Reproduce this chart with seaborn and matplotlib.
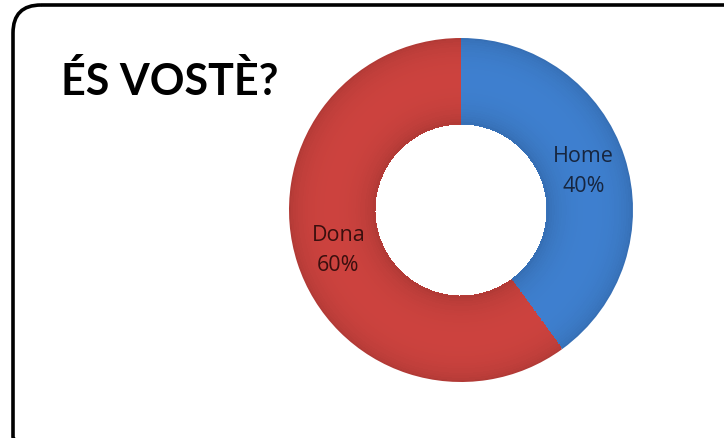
import numpy as np
import matplotlib
matplotlib.use("Agg")
import matplotlib.pyplot as plt
import matplotlib.colors as mcolors
from matplotlib.patches import FancyBboxPatch
import seaborn as sns

# Survey split by gender
categories = ["Home", "Dona"]
shares = [40, 60]
title_text = "ÉS VOSTÈ?"

base_colors = ["#3D7DCB", "#C8413D"]
label_colors = ["#17263F", "#3A0F0E"]

sns.set_theme(style="white")
plt.rcParams["font.family"] = ["Lato", "DejaVu Sans"]

W, H = 724, 439
fig = plt.figure(figsize=(W / 100, H / 100), dpi=100)
fig.patch.set_facecolor("white")

# Rounded frame around the whole card
frame_ax = fig.add_axes([0, 0, 1, 1])
frame_ax.set_xlim(0, W)
frame_ax.set_ylim(H, 0)
frame_ax.axis("off")
frame_ax.add_patch(FancyBboxPatch((13, 6), 740, 460,
                                  boxstyle="round,pad=0,rounding_size=28",
                                  fill=False, edgecolor="black", linewidth=2.6))
frame_ax.text(61, 95, title_text, fontsize=31, fontweight="bold",
              color="black", ha="left", va="baseline")

# Donut axes, centred on the card's right-hand side
cx, cy, R = 461, 211, 172
ax = fig.add_axes([(cx - R) / W, (H - cy - R) / H, 2 * R / W, 2 * R / H])
ax.axis("off")

inner = 0.5
n_rings = 36
edges = np.linspace(inner, 1.0, n_rings + 1)


def shade(color, t):
    """Bevel tone across the ring: darker near both rims, brighter mid-ring."""
    rgb = np.array(mcolors.to_rgb(color))
    prof = np.sin(np.pi * t)  # 0 at rims, 1 in the middle
    k = 0.84 + 0.18 * prof ** 0.4
    return np.clip(rgb * k, 0, 1)


# Paint outermost band first; each smaller band covers the inner part of the
# previous one, so no seams appear between bands.
for i in range(n_rings - 1, -1, -1):
    r_out = edges[i + 1]
    t = (0.5 * (edges[i] + edges[i + 1]) - inner) / (1 - inner)
    cols = [shade(c, t) for c in base_colors]
    ax.pie(shares, radius=r_out, startangle=90, counterclock=False,
           colors=cols, wedgeprops=dict(width=r_out - inner, edgecolor="none",
                                        linewidth=0, antialiased=(i == n_rings - 1 or i == 0)))

# Category labels placed mid-ring at each slice's centre angle
total = sum(shares)
start = 90.0
mid_r = 0.75
for name, val, col in zip(categories, shares, label_colors):
    sweep = 360.0 * val / total
    ang = np.deg2rad(start - sweep / 2)
    x, y = mid_r * np.cos(ang), mid_r * np.sin(ang)
    ax.text(x, y, f"{name}\n{val:.0f}%", ha="center", va="center",
            fontsize=15.5, color=col, linespacing=1.55,
            family=["Open Sans", "DejaVu Sans"])
    start -= sweep

ax.set_xlim(-1, 1)
ax.set_ylim(-1, 1)
ax.set_aspect("equal")

fig.savefig("out.png", dpi=100, facecolor="white")
